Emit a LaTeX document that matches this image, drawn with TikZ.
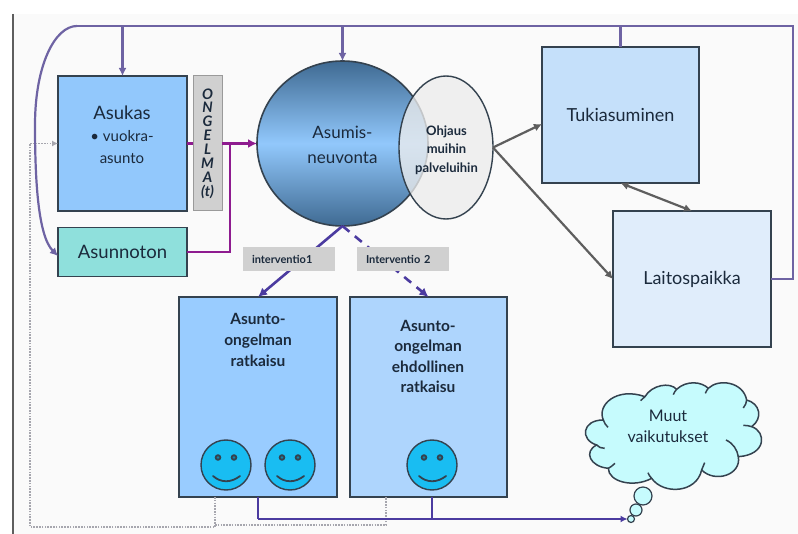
\documentclass[tikz,border=0pt]{standalone}
\usepackage{fontspec}
\setmainfont{Lato}
\usetikzlibrary{arrows.meta,calc,shapes.geometric}
\newcommand{\fsz}[2]{\fontsize{#1}{#2}\selectfont}
\definecolor{ink}{HTML}{1B2A3C}
\definecolor{edge}{HTML}{34424F}
\definecolor{slide}{HTML}{FAFAFA}
\definecolor{loopc}{HTML}{6E63A3}
\definecolor{magc}{HTML}{8E1B8F}
\definecolor{bluec}{HTML}{4B3BA0}
\definecolor{grayc}{HTML}{5E5E5E}
\definecolor{dotc}{HTML}{A6A6AE}
\definecolor{faceblue}{HTML}{19BDF2}
\definecolor{cloudc}{HTML}{C6FBFD}
\definecolor{HBlue}{HTML}{92C8FC}
\definecolor{HGray}{HTML}{D0D0D0}
\definecolor{HGrayB}{HTML}{9A9A9A}
\definecolor{HTeal}{HTML}{8FE0DC}
\definecolor{HTuki}{HTML}{C5E0FA}
\definecolor{HLaitos}{HTML}{E0EDFB}
\definecolor{HBoxA}{HTML}{99CCFF}
\definecolor{HBoxB}{HTML}{AED5FD}
\definecolor{HCircD}{HTML}{3F6A92}
\definecolor{HEll}{HTML}{ECECEC}
\tikzset{
  box/.style={draw=edge,line width=1.8pt,inner sep=0pt,outer sep=0pt,text=ink},
  tag/.style={fill=#1,inner sep=0pt,outer sep=0pt,text=ink},
  ivtag/.style={tag=HGray,text width=92pt,align=left,minimum height=24pt,font=\fsz{11}{12}\bfseries},
  title/.style={text=ink,align=center,inner sep=0pt},
  loopline/.style={draw=loopc,line width=2.2pt},
  looparrow/.style={loopline,-{Latex[length=8pt,width=8pt]}},
  probline/.style={draw=magc,line width=2.8pt},
  interv/.style={draw=bluec,line width=2.6pt,-{Latex[length=9pt,width=9pt]}},
  grayarrow/.style={draw=grayc,line width=2.2pt,-{Latex[length=8pt,width=8pt]}},
  feedback/.style={draw=dotc,line width=1.8pt,dash pattern=on 1.6pt off 1.2pt},
  result/.style={draw=bluec,line width=2pt},
  face/.style={circle,draw=edge,line width=1.4pt,fill=faceblue,minimum size=50pt,inner sep=0pt,outer sep=0pt},
  bubble/.style={circle,draw=edge,line width=1.2pt,fill=cloudc,inner sep=0pt,outer sep=0pt},
}
\newcommand{\happyface}[1]{%
  \fill[edge] ($(#1)+(-8,-7.5)$) circle (3.3pt);
  \fill[edge] ($(#1)+(8,-7.5)$) circle (3.3pt);
  \fill[faceblue!70!black] ($(#1)+(-8,-7.5)$) circle (1.4pt);
  \fill[faceblue!70!black] ($(#1)+(8,-7.5)$) circle (1.4pt);
  \draw[edge,line width=1.8pt,line cap=round] ($(#1)+(-13,11)$) .. controls ($(#1)+(-5,18)$) and ($(#1)+(5,18)$) .. ($(#1)+(14,11)$);
}
\begin{document}
\begin{tikzpicture}[x=1pt,y=-1pt]
\useasboundingbox (0,0) rectangle (798,534);
\fill[white] (0,0) rectangle (798,534);
\fill[slide] (14,14) rectangle (798,534);
\draw[draw=grayc,line width=2pt] (13,14) -- (13,534);

% main boxes
\node[box,fill=HBlue,minimum width=129pt,minimum height=135pt] (asukas) at (122.5,143.5) {};
\node[tag=HGray,draw=HGrayB,line width=1pt,minimum width=29pt,minimum height=135pt,align=center,font=\fsz{14.5}{13.9}\bfseries\itshape] (ongelma) at (207.5,143.5)
  {O\\N\\G\\E\\L\\M\\A\\(t)};
\node[box,fill=HTeal,minimum width=129pt,minimum height=49pt,font=\fsz{18.5}{20}] (asunnoton) at (122.5,252) {Asunnoton};
\node[box,fill=HTuki,minimum width=157pt,minimum height=136pt,font=\fsz{18}{20}] (tuki) at (620.5,115) {Tukiasuminen};
\node[box,fill=HLaitos,minimum width=158pt,minimum height=136pt,font=\fsz{18}{20}] (laitos) at (692,279) {Laitospaikka};
\node[box,fill=HBoxA,minimum width=158pt,minimum height=200pt] (ratkA) at (258,397) {};
\node[box,fill=HBoxB,minimum width=157pt,minimum height=200pt] (ratkB) at (428.5,397) {};

% circle + ellipse
\node[ellipse,draw=edge,line width=1.6pt,inner sep=0pt,outer sep=0pt,minimum width=171pt,minimum height=165pt,
  top color=HCircD,bottom color=HCircD,middle color=HBlue] (asumis) at (342.5,143.5) {};
\node[ellipse,draw=edge,line width=1.4pt,fill=HEll,fill opacity=.78,inner sep=0pt,outer sep=0pt,minimum width=94pt,minimum height=143pt] (ohjaus) at (446,147.5) {};
\node[title,font=\fsz{17}{25}] (asumist) at (342.5,145) {Asumis-\\neuvonta};
\node[title,font=\fsz{13}{18.5}\bfseries] (ohjaust) at (446.5,150) {Ohjaus\\muihin\\palveluihin};

% texts in boxes
\node[title,font=\fsz{15}{22}] (asukast) at (122,135) {\fsz{18.5}{22}Asukas\\• vuokra-\\asunto};
\node[title,font=\fsz{15.5}{21}\bfseries] (ratkAt) at (258,340) {Asunto-\\ongelman\\ratkaisu};
\node[title,font=\fsz{15.5}{20.5}\bfseries] (ratkBt) at (428,356.5) {Asunto-\\ongelman\\ehdollinen\\ratkaisu};

% connectors behind labels
\coordinate (toprail) at (77,26);
\coordinate (railend) at (793,26);
\coordinate (railsouth) at (793,279);
\draw[interv] (asumis.south) -- (ratkA.north);
\draw[interv,dash pattern=on 9pt off 7pt] (asumis.south) -- (ratkB.north);
\node[ivtag] (iv1) at (289,259) {\hspace*{9pt}interventio1};
\node[ivtag] (iv2) at (403,259) {\hspace*{9pt}Interventio 2};

% purple loop
\draw[loopline] (laitos.east) -- (railsouth) -- (railend) -- (toprail);
\draw[loopline] (tuki.north) -- (tuki.north |- toprail);
\draw[looparrow] (asukas.north |- toprail) -- (asukas.north);
\draw[looparrow] (asumis.north |- toprail) -- (asumis.north);
\draw[looparrow] (toprail) .. controls (55,26) and (35,65) .. (35,125) .. controls (35,180) and (38,236) .. ([yshift=-4pt]asunnoton.west);

% magenta
\draw[probline] (asukas.east) -- (ongelma.west);
\draw[probline,-{Latex[length=9pt,width=9pt]}] (ongelma.east) -- (asumis.west);
\draw[probline,line width=2.6pt] (asunnoton.east) -| (230,143.5);

% gray
\draw[grayarrow] (ohjaus.east) -- ([yshift=-9pt]tuki.west);
\draw[grayarrow] (ohjaus.east) -- (laitos.west);
\draw[grayarrow,{Latex[length=8pt,width=8pt]}-{Latex[length=8pt,width=8pt]}] (tuki.south) -- (laitos.north);

% faces
\node[face] (f1) at (226,465) {}; \happyface{f1}
\node[face] (f2) at (290,465) {}; \happyface{f2}
\node[face] (f3) at (432,465) {}; \happyface{f3}

% feedback dotted
\coordinate (fbA) at (30,143.5);
\coordinate (fbB) at (30,527);
\coordinate (fbC) at (215,527);
\coordinate (fbD) at (386,525);
\draw[feedback] (ratkA.south -| fbC) -- (fbC) -- (fbB) -- (fbA);
\draw[feedback,-{Latex[length=6pt,width=6pt]}] (fbA) -- (asukas.west);
\draw[feedback] (fbC |- fbD) -- (fbD) -- (ratkB.south -| fbD);

% cloud
\begin{scope}[shift={(400,280)},x=0.3333pt,y=-0.3333pt]
\draw[draw=edge,line width=1.5pt,fill=cloudc,line join=round]
 (610,420) .. controls (590,375) and (650,320) .. (735,350)
 .. controls (755,315) and (810,305) .. (830,328)
 .. controls (860,300) and (905,305) .. (925,325)
 .. controls (955,295) and (1030,305) .. (1040,360)
 .. controls (1080,370) and (1090,415) .. (1055,440)
 .. controls (1100,455) and (1100,525) .. (1015,530)
 .. controls (1025,585) and (945,610) .. (905,570)
 .. controls (890,640) and (790,645) .. (755,595)
 .. controls (700,625) and (625,605) .. (625,565)
 .. controls (570,560) and (550,515) .. (590,495)
 .. controls (540,480) and (545,420) .. (610,420);
\draw[edge,line width=1.5pt]
 (610,420) .. controls (612,428) and (618,436) .. (624,442)
 (735,350) .. controls (730,354) and (726,358) .. (722,362)
 (830,328) .. controls (826,332) and (822,338) .. (820,344)
 (925,325) .. controls (922,329) and (918,334) .. (916,340)
 (1040,360) .. controls (1040,368) and (1036,376) .. (1030,384)
 (1055,440) .. controls (1048,438) and (1040,436) .. (1030,436)
 (1015,530) .. controls (1012,510) and (1000,490) .. (978,480)
 (905,570) .. controls (908,562) and (912,554) .. (914,548)
 (755,595) .. controls (750,590) and (746,584) .. (744,578)
 (625,565) .. controls (630,562) and (640,556) .. (645,550)
 (590,495) .. controls (596,502) and (604,505) .. (614,505);
\end{scope}
\node[title,font=\fsz{16}{21}] (cloudt) at (668,426) {Muut\\vaikutukset};
\node[bubble,minimum size=18pt] (b1) at (643,496) {};
\node[bubble,minimum size=12pt] (b2) at (636,510) {};
\node[bubble,minimum size=7pt] (b3) at (631,519) {};

% blue result line
\coordinate (resL) at (257,519);
\draw[result] (ratkA.south) -- (ratkA.south |- resL);
\draw[result,-{Latex[length=7pt,width=7pt]}] (ratkA.south |- resL) -- (b3.west);
\draw[result] (f3.south |- ratkB.south) -- (f3.south |- resL);
\end{tikzpicture}
\end{document}
